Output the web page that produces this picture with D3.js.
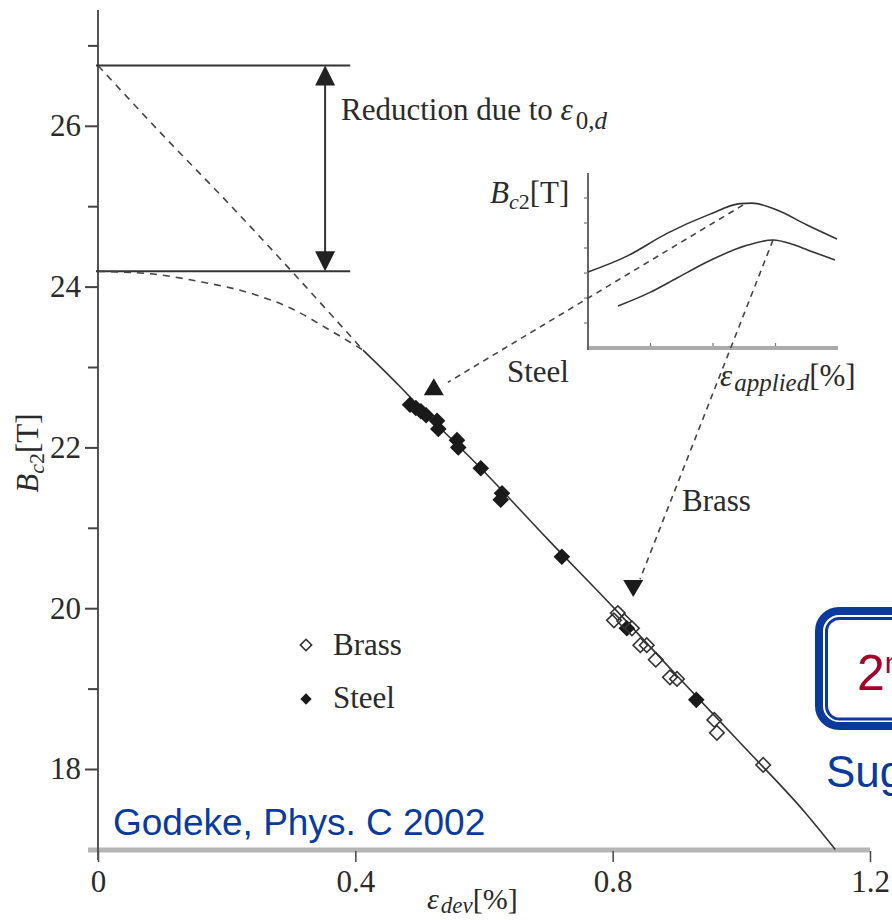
<!DOCTYPE html>
<html>
<head>
<meta charset="utf-8">
<script src="https://cdn.jsdelivr.net/npm/d3@7"></script>
<style>
  html, body { margin: 0; padding: 0; background: #fff; overflow: hidden; }
  svg { display: block; }
  .serif { font-family: "Liberation Serif", "Times New Roman", serif; fill: #2a2a2a; }
  .sans { font-family: "Liberation Sans", Arial, sans-serif; }
</style>
</head>
<body>
<svg id="chart" width="892" height="923"></svg>
<script>
// ---- Upper critical field Bc2 versus deviatoric strain ----
const xTickValues = [0, 0.4, 0.8, 1.2];
const xTickLabels = ["0", "0.4", "0.8", "1.2"];
const yMajorTicks = [18, 20, 22, 24, 26];
const yMinorTicks = [19, 21, 23, 25, 27];

// measured points [eps_dev %, Bc2 T]
const brassPoints = [
  [0.808, 19.94], [0.802, 19.85], [0.818, 19.84], [0.830, 19.75],
  [0.843, 19.54], [0.853, 19.54], [0.867, 19.36], [0.889, 19.14],
  [0.900, 19.12], [0.958, 18.61], [0.962, 18.45], [1.034, 18.05]
];
const steelPoints = [
  [0.485, 22.53], [0.494, 22.49], [0.502, 22.45], [0.510, 22.40],
  [0.527, 22.33], [0.529, 22.23], [0.558, 22.09], [0.560, 22.00],
  [0.595, 21.74], [0.628, 21.43], [0.626, 21.35], [0.721, 20.64],
  [0.822, 19.75], [0.930, 18.86]
];

// fitted curve through the data
const fitCurve = [
  [0.412, 23.21], [0.469, 22.76], [0.50, 22.50], [0.60, 21.70],
  [0.70, 20.85], [0.80, 20.02], [0.90, 19.16], [1.00, 18.31],
  [1.10, 17.45], [1.146, 17.00]
];
// extrapolations towards zero strain
const extrapUpper = [
  [0.000, 26.75], [0.100, 25.89], [0.200, 25.06], [0.300, 24.20],
  [0.350, 23.76], [0.412, 23.21]
];
const extrapLower = [
  [0.000, 24.19], [0.080, 24.16], [0.160, 24.06], [0.240, 23.91],
  [0.300, 23.73], [0.360, 23.46], [0.412, 23.21]
];
const bc2Levels = [26.75, 24.19];       // Bc2 with and without eps_0,d reduction
const levelLineEnd = 0.392;             // strain where the level lines stop
const reductionArrowX = 0.353;

// inset: Bc2 vs applied strain (normalised units)
const insetUpper = [
  [0.000, 0.434], [0.156, 0.525], [0.316, 0.655], [0.488, 0.765],
  [0.608, 0.825], [0.656, 0.828], [0.756, 0.789], [0.876, 0.703], [0.996, 0.623]
];
const insetLower = [
  [0.120, 0.240], [0.248, 0.318], [0.356, 0.400], [0.488, 0.500],
  [0.636, 0.587], [0.740, 0.617], [0.820, 0.592], [0.900, 0.549], [0.988, 0.503]
];
const insetYTicks = [1, 2, 3, 4, 5, 6].map(k => k / 7);
const insetXTicks = [0.25, 0.5, 0.75];

// pointer arrows: start on inset peak, end in main plot
const steelArrow = { from: [0.62, 0.817], to: [0.544, 22.81], tip: [0.522, 22.86] };
const brassArrow = { from: [0.74, 0.617], to: [0.8425, 20.36], tip: [0.832, 20.14] };

// ---------------------------------------------------------
const svg = d3.select("#chart");
const SERIF = '"Liberation Serif", "Times New Roman", serif';

const x = d3.scaleLinear().domain([0, 1.2]).range([98, 870]);
const y = d3.scaleLinear().domain([17, 27]).range([849.4, 45.4]);

const ix = d3.scaleLinear().domain([0, 1]).range([588, 838]);
const iy = d3.scaleLinear().domain([0, 1]).range([348, 173]);

const lineMain = d3.line().x(d => x(d[0])).y(d => y(d[1])).curve(d3.curveMonotoneX);
const lineInset = d3.line().x(d => ix(d[0])).y(d => iy(d[1])).curve(d3.curveMonotoneX);

// ---- main axes ----
svg.append("line")
  .attr("x1", 88).attr("x2", x(1.2))
  .attr("y1", 850).attr("y2", 850)
  .attr("stroke", "#b5b5b5").attr("stroke-width", 5);

const xAxis = d3.axisBottom(x)
  .tickValues(xTickValues)
  .tickFormat((d, i) => xTickLabels[i])
  .tickSize(11).tickPadding(8);
const gx = svg.append("g").attr("transform", "translate(0,851)").call(xAxis)
  .attr("font-family", SERIF).attr("font-size", 31);
gx.select(".domain").remove();
gx.selectAll(".tick line").attr("stroke", "#444").attr("stroke-width", 1.5);
gx.selectAll(".tick text").attr("fill", "#2a2a2a");

svg.append("line")
  .attr("x1", x(0)).attr("x2", x(0))
  .attr("y1", 860).attr("y2", 10)
  .attr("stroke", "#555").attr("stroke-width", 2);

const yAxis = d3.axisLeft(y).tickValues(yMajorTicks).tickFormat(d3.format("d"))
  .tickSize(13).tickPadding(4);
const gy = svg.append("g").attr("transform", `translate(${x(0)},0)`).call(yAxis)
  .attr("font-family", SERIF).attr("font-size", 31);
gy.select(".domain").remove();
gy.selectAll(".tick line").attr("stroke", "#444").attr("stroke-width", 2);
gy.selectAll(".tick text").attr("fill", "#2a2a2a");

const yMinor = d3.axisLeft(y).tickValues(yMinorTicks).tickFormat("").tickSize(10);
const gym = svg.append("g").attr("transform", `translate(${x(0)},0)`).call(yMinor);
gym.select(".domain").remove();
gym.selectAll(".tick line").attr("stroke", "#444").attr("stroke-width", 2);

// axis titles
svg.append("text").attr("class", "serif").attr("font-size", 31)
  .attr("transform", "translate(38,453) rotate(-90)").attr("text-anchor", "middle")
  .call(t => {
    t.append("tspan").attr("font-style", "italic").text("B");
    t.append("tspan").attr("font-size", 22).attr("dy", 6).attr("font-style", "italic").text("c");
    t.append("tspan").attr("font-size", 22).text("2");
    t.append("tspan").attr("dy", -6).text("[T]");
  });

svg.append("text").attr("class", "serif").attr("font-size", 30)
  .attr("x", 427).attr("y", 909)
  .call(t => {
    t.append("tspan").attr("font-style", "italic").text("ε");
    t.append("tspan").attr("font-size", 23).attr("font-style", "italic").attr("dy", 4).attr("dx", 2).text("dev");
    t.append("tspan").attr("dy", -4).text("[%]");
  });

// ---- level lines and reduction arrow ----
svg.selectAll("line.level").data(bc2Levels).enter().append("line")
  .attr("class", "level")
  .attr("x1", x(0) - 2).attr("x2", x(levelLineEnd))
  .attr("y1", d => y(d)).attr("y2", d => y(d))
  .attr("stroke", "#333").attr("stroke-width", 2);

const ax = x(reductionArrowX);
svg.append("line")
  .attr("x1", ax).attr("x2", ax)
  .attr("y1", y(bc2Levels[0]) + 15).attr("y2", y(bc2Levels[1]) - 15)
  .attr("stroke", "#333").attr("stroke-width", 2);
svg.append("path")
  .attr("d", `M${ax},${y(bc2Levels[0])} L${ax + 10},${y(bc2Levels[0]) + 20} L${ax - 10},${y(bc2Levels[0]) + 20}Z`)
  .attr("fill", "#222");
svg.append("path")
  .attr("d", `M${ax},${y(bc2Levels[1])} L${ax + 10},${y(bc2Levels[1]) - 20} L${ax - 10},${y(bc2Levels[1]) - 20}Z`)
  .attr("fill", "#222");

svg.append("text").attr("class", "serif").attr("font-size", 31)
  .attr("x", 341).attr("y", 120)
  .call(t => {
    t.append("tspan").text("Reduction due to ");
    t.append("tspan").attr("font-style", "italic").text("ε");
    t.append("tspan").attr("font-size", 25).attr("dy", 9).attr("dx", 3).text("0,");
    t.append("tspan").attr("font-size", 25).attr("font-style", "italic").text("d");
  });

// ---- extrapolation curves and fit ----
[extrapUpper, extrapLower].forEach(arr => {
  svg.append("path").attr("d", lineMain(arr))
    .attr("fill", "none").attr("stroke", "#444").attr("stroke-width", 1.6)
    .attr("stroke-dasharray", "7,6");
});
svg.append("path").attr("d", lineMain(fitCurve))
  .attr("fill", "none").attr("stroke", "#333").attr("stroke-width", 1.6);

// ---- markers ----
const sq = d3.symbol().type(d3.symbolSquare).size(105);
svg.selectAll("path.steel").data(steelPoints).enter().append("path")
  .attr("class", "steel")
  .attr("d", sq)
  .attr("transform", d => `translate(${x(d[0])},${y(d[1])}) rotate(45)`)
  .attr("fill", "#1a1a1a").attr("stroke", "#1a1a1a").attr("stroke-width", 1.5);
svg.selectAll("path.brass").data(brassPoints).enter().append("path")
  .attr("class", "brass")
  .attr("d", sq)
  .attr("transform", d => `translate(${x(d[0])},${y(d[1])}) rotate(45)`)
  .attr("fill", "none").attr("stroke", "#333").attr("stroke-width", 1.6);

// ---- legend ----
const sqLegend = d3.symbol().type(d3.symbolSquare).size(64);
svg.append("path").attr("d", sqLegend).attr("transform", "translate(306,645) rotate(45)")
  .attr("fill", "none").attr("stroke", "#333").attr("stroke-width", 1.6);
svg.append("path").attr("d", sqLegend).attr("transform", "translate(306,699) rotate(45)")
  .attr("fill", "#1a1a1a");
svg.append("text").attr("class", "serif").attr("font-size", 31).attr("x", 333).attr("y", 655).text("Brass");
svg.append("text").attr("class", "serif").attr("font-size", 31).attr("x", 333).attr("y", 708).text("Steel");

// ---- inset ----
svg.append("line")
  .attr("x1", ix(0)).attr("x2", ix(1)).attr("y1", iy(0)).attr("y2", iy(0))
  .attr("stroke", "#aaa").attr("stroke-width", 4);
svg.append("line")
  .attr("x1", ix(0)).attr("x2", ix(0)).attr("y1", iy(0) + 2).attr("y2", iy(1))
  .attr("stroke", "#666").attr("stroke-width", 2);
svg.selectAll("line.iyt").data(insetYTicks).enter().append("line")
  .attr("class", "iyt")
  .attr("x1", ix(0) - 4).attr("x2", ix(0))
  .attr("y1", d => iy(d)).attr("y2", d => iy(d))
  .attr("stroke", "#777").attr("stroke-width", 1.2);
svg.selectAll("line.ixt").data(insetXTicks).enter().append("line")
  .attr("class", "ixt")
  .attr("x1", d => ix(d)).attr("x2", d => ix(d))
  .attr("y1", iy(0) - 2).attr("y2", iy(0) - 5)
  .attr("stroke", "#777").attr("stroke-width", 1.2);

[insetUpper, insetLower].forEach(arr => {
  svg.append("path").attr("d", lineInset(arr))
    .attr("fill", "none").attr("stroke", "#333").attr("stroke-width", 1.6);
});

svg.append("text").attr("class", "serif").attr("font-size", 31)
  .attr("x", 490).attr("y", 203)
  .call(t => {
    t.append("tspan").attr("font-style", "italic").text("B");
    t.append("tspan").attr("font-size", 22).attr("dy", 6).attr("font-style", "italic").text("c");
    t.append("tspan").attr("font-size", 22).text("2");
    t.append("tspan").attr("dy", -6).text("[T]");
  });
svg.append("text").attr("class", "serif").attr("font-size", 31)
  .attr("x", 720).attr("y", 386)
  .call(t => {
    t.append("tspan").attr("font-style", "italic").text("ε");
    t.append("tspan").attr("font-size", 25).attr("font-style", "italic").attr("dy", 5).attr("dx", 2).text("applied");
    t.append("tspan").attr("dy", -5).text("[%]");
  });
svg.append("text").attr("class", "serif").attr("font-size", 31).attr("x", 507).attr("y", 382).text("Steel");
svg.append("text").attr("class", "serif").attr("font-size", 31).attr("x", 682).attr("y", 511).text("Brass");

// pointer arrows
function pointer(a, up) {
  svg.append("line")
    .attr("x1", ix(a.from[0])).attr("y1", iy(a.from[1]))
    .attr("x2", x(a.to[0])).attr("y2", y(a.to[1]))
    .attr("stroke", "#444").attr("stroke-width", 1.6).attr("stroke-dasharray", "6,5");
  const tx = x(a.tip[0]), ty = y(a.tip[1]);
  const s = up ? 1 : -1;
  svg.append("path")
    .attr("d", `M${tx},${ty} L${tx + 10},${ty + s * 17} L${tx - 10},${ty + s * 17}Z`)
    .attr("fill", "#1a1a1a");
}
pointer(steelArrow, true);
pointer(brassArrow, false);

// ---- slide overlays ----
svg.append("text").attr("class", "sans").attr("font-size", 37).attr("fill", "#0a3a9c")
  .attr("x", 113).attr("y", 835).text("Godeke, Phys. C 2002");

svg.append("rect")
  .attr("x", 819).attr("y", 611).attr("width", 200).attr("height", 115).attr("rx", 20)
  .attr("fill", "#fff").attr("stroke", "#0a3a9c").attr("stroke-width", 8);
svg.append("rect")
  .attr("x", 826.5).attr("y", 618.5).attr("width", 200).attr("height", 100.5).attr("rx", 13)
  .attr("fill", "none").attr("stroke", "#0a3a9c").attr("stroke-width", 3);
svg.append("text").attr("class", "sans").attr("font-size", 50).attr("fill", "#a3002a")
  .attr("x", 857).attr("y", 690)
  .call(t => {
    t.append("tspan").text("2");
    t.append("tspan").attr("font-size", 30).attr("dy", -17).text("nd");
  });
svg.append("text").attr("class", "sans").attr("font-size", 44).attr("fill", "#0a3a9c")
  .attr("x", 826).attr("y", 787).text("Sug");
</script>
</body>
</html>
